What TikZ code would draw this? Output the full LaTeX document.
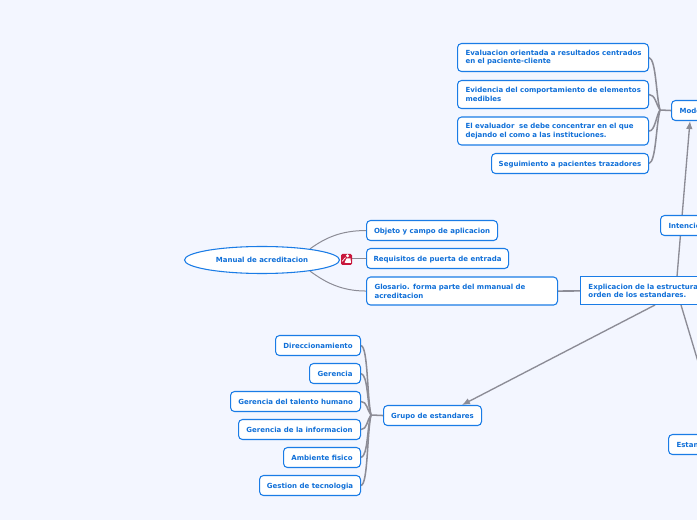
\documentclass[tikz,border=0pt]{standalone}
\usepackage{fontspec}
\setmainfont{DejaVu Sans}
\usetikzlibrary{arrows.meta,backgrounds,shapes.geometric}
\definecolor{bgc}{HTML}{F3F6FF}
\definecolor{bluec}{HTML}{1A7CE6}
\definecolor{txtc}{HTML}{0F6FD8}
\definecolor{linec}{HTML}{8C8C96}
\definecolor{redc}{HTML}{C8173C}
\def\px{0.75pt}
\tikzset{
  x=0.75pt,y=-0.75pt,
  lbl/.style={font=\fontsize{5.25pt}{6.6pt}\selectfont\bfseries,text=txtc,inner sep=0pt},
  topic/.style 2 args={lbl,draw=bluec,line width=0.8pt,fill=white,rounded corners=3pt,anchor=north west,
    minimum width=#1*\px,minimum height=#2*\px,align=center,text depth=0pt},
  wide/.style 2 args={topic={#1}{#2},text depth=,align=left,text width=(#1-16)*\px},
  branch/.style={draw=linec,line width=1.15pt},
  thin branch/.style={draw=linec,line width=0.75pt},
  relation/.style={draw=linec,line width=1pt,-{Latex[length=6pt,width=5pt]}},
  plainrel/.style={draw=linec,line width=1pt}
}
\begin{document}
\begin{tikzpicture}
\useasboundingbox (0,0) rectangle (697,520);
\begin{scope}
\clip (0,0) rectangle (697,520);
% right-hand cluster
\node[wide={191}{28}] (e1) at (457,43) {\mbox{Evaluacion orientada a resultados centrados}\\\mbox{en el paciente-cliente}};
\node[wide={191}{28}] (e2) at (457,80) {\mbox{Evidencia del comportamiento de elementos}\\\mbox{medibles}};
\node[wide={191}{28}] (e3) at (457,116.5) {\mbox{El evaluador\ \ se debe concentrar en el que}\\\mbox{dejando el como a las instituciones.}};
\node[topic={157}{20}] (e4) at (491,153) {Seguimiento a pacientes trazadores};
\node[topic={100}{20},text width=84*\px,align=left] (mod) at (671,100) {Modelo};
\node[topic={100}{20},text width=84*\px,align=left] (int) at (660,215) {Intencion};
% manual
\node[lbl,draw=bluec,line width=0.8pt,fill=white,ellipse,anchor=center,inner sep=0pt,minimum width=155*\px,minimum height=27*\px] (man) at (262,260) {Manual de acreditacion};
\node[topic={131}{20}] (obj) at (366,220) {Objeto y campo de aplicacion};
\node[topic={142}{20}] (req) at (366,248) {Requisitos de puerta de entrada};
\node[wide={191}{28}] (glo) at (366,276.5) {\mbox{Glosario. forma parte del mmanual de}\\\mbox{acreditacion}};
\node[wide={160}{28},rounded corners=0pt,line width=0.7pt] (exp) at (580,276.5) {\mbox{Explicacion de la estructura y}\\\mbox{orden de los estandares.}};
% icon
\node[fill=redc,rounded corners=1pt,inner sep=0pt,minimum width=11*\px,minimum height=11*\px,anchor=center] (ico) at (346.5,259.5) {};
\fill[white] (347.5,255.8) circle (1.7) (344.5,262.5) -- (346.5,258.5) -- (350.5,258.5) -- (351,263) -- (346,263) -- cycle;
\draw[white,line width=0.5pt] (342,261.5) -- (345.5,257.5);
% grupo
\node[topic={98}{20}] (gru) at (383,405) {Grupo de estandares};
\node[topic={85}{20}] (g1) at (275,335) {Direccionamiento};
\node[topic={51}{20}] (g2) at (309,363) {Gerencia};
\node[topic={130}{20}] (g3) at (230,391) {Gerencia del talento humano};
\node[topic={122}{20}] (g4) at (238,419) {Gerencia de la informacion};
\node[topic={77}{20}] (g5) at (283,447) {Ambiente fisico};
\node[topic={101}{20}] (g6) at (259,475) {Gestion de tecnologia};
\node[topic={100}{20},text width=84*\px,align=left] (est) at (668,434) {Estandares};
\coordinate (jm) at (660,110);
\coordinate (jg) at (371,415);
\coordinate (off) at (699,365);
\end{scope}
\begin{pgfonlayer}{background}
\clip (0,0) rectangle (697,520);
\fill[bgc] (0,0) rectangle (697,520);
\draw[branch] (mod.west) -- (jm);
\draw[branch] (e1.east) .. controls +(7,2) and +(-4,-15) .. (jm);
\draw[branch] (e2.east) .. controls +(6,0) and +(-4,-6) .. (jm);
\draw[branch] (e3.east) .. controls +(6,0) and +(-4,6) .. (jm);
\draw[branch] (e4.east) .. controls +(7,-2) and +(-4,15) .. (jm);
\draw[branch] (gru.west) -- (jg);
\draw[branch] (g1.east) .. controls +(7,2) and +(-4,-18) .. (jg);
\draw[branch] (g2.east) .. controls +(7,2) and +(-4,-12) .. (jg);
\draw[branch] (g3.east) .. controls +(6,0) and +(-4,-5) .. (jg);
\draw[branch] (g4.east) .. controls +(6,0) and +(-4,5) .. (jg);
\draw[branch] (g5.east) .. controls +(7,-2) and +(-4,12) .. (jg);
\draw[branch] (g6.east) .. controls +(7,-2) and +(-4,18) .. (jg);
\draw[thin branch] (man.13) .. controls +(15,-11) and +(-25,0) .. (obj.west);
\draw[thin branch] (man.-13) .. controls +(15,11) and +(-25,0) .. (glo.west);
\draw[thin branch] (ico.east |- req.west) -- (req.west);
\draw[branch] (glo.east) -- (exp.west);
\draw[relation] (exp.north -| 677,0) -- (690,121);
\draw[relation] (655,305) -- (gru.north -| 462,0);
\draw[plainrel] (681,305) -- (off);
\end{pgfonlayer}
\end{tikzpicture}
\end{document}
